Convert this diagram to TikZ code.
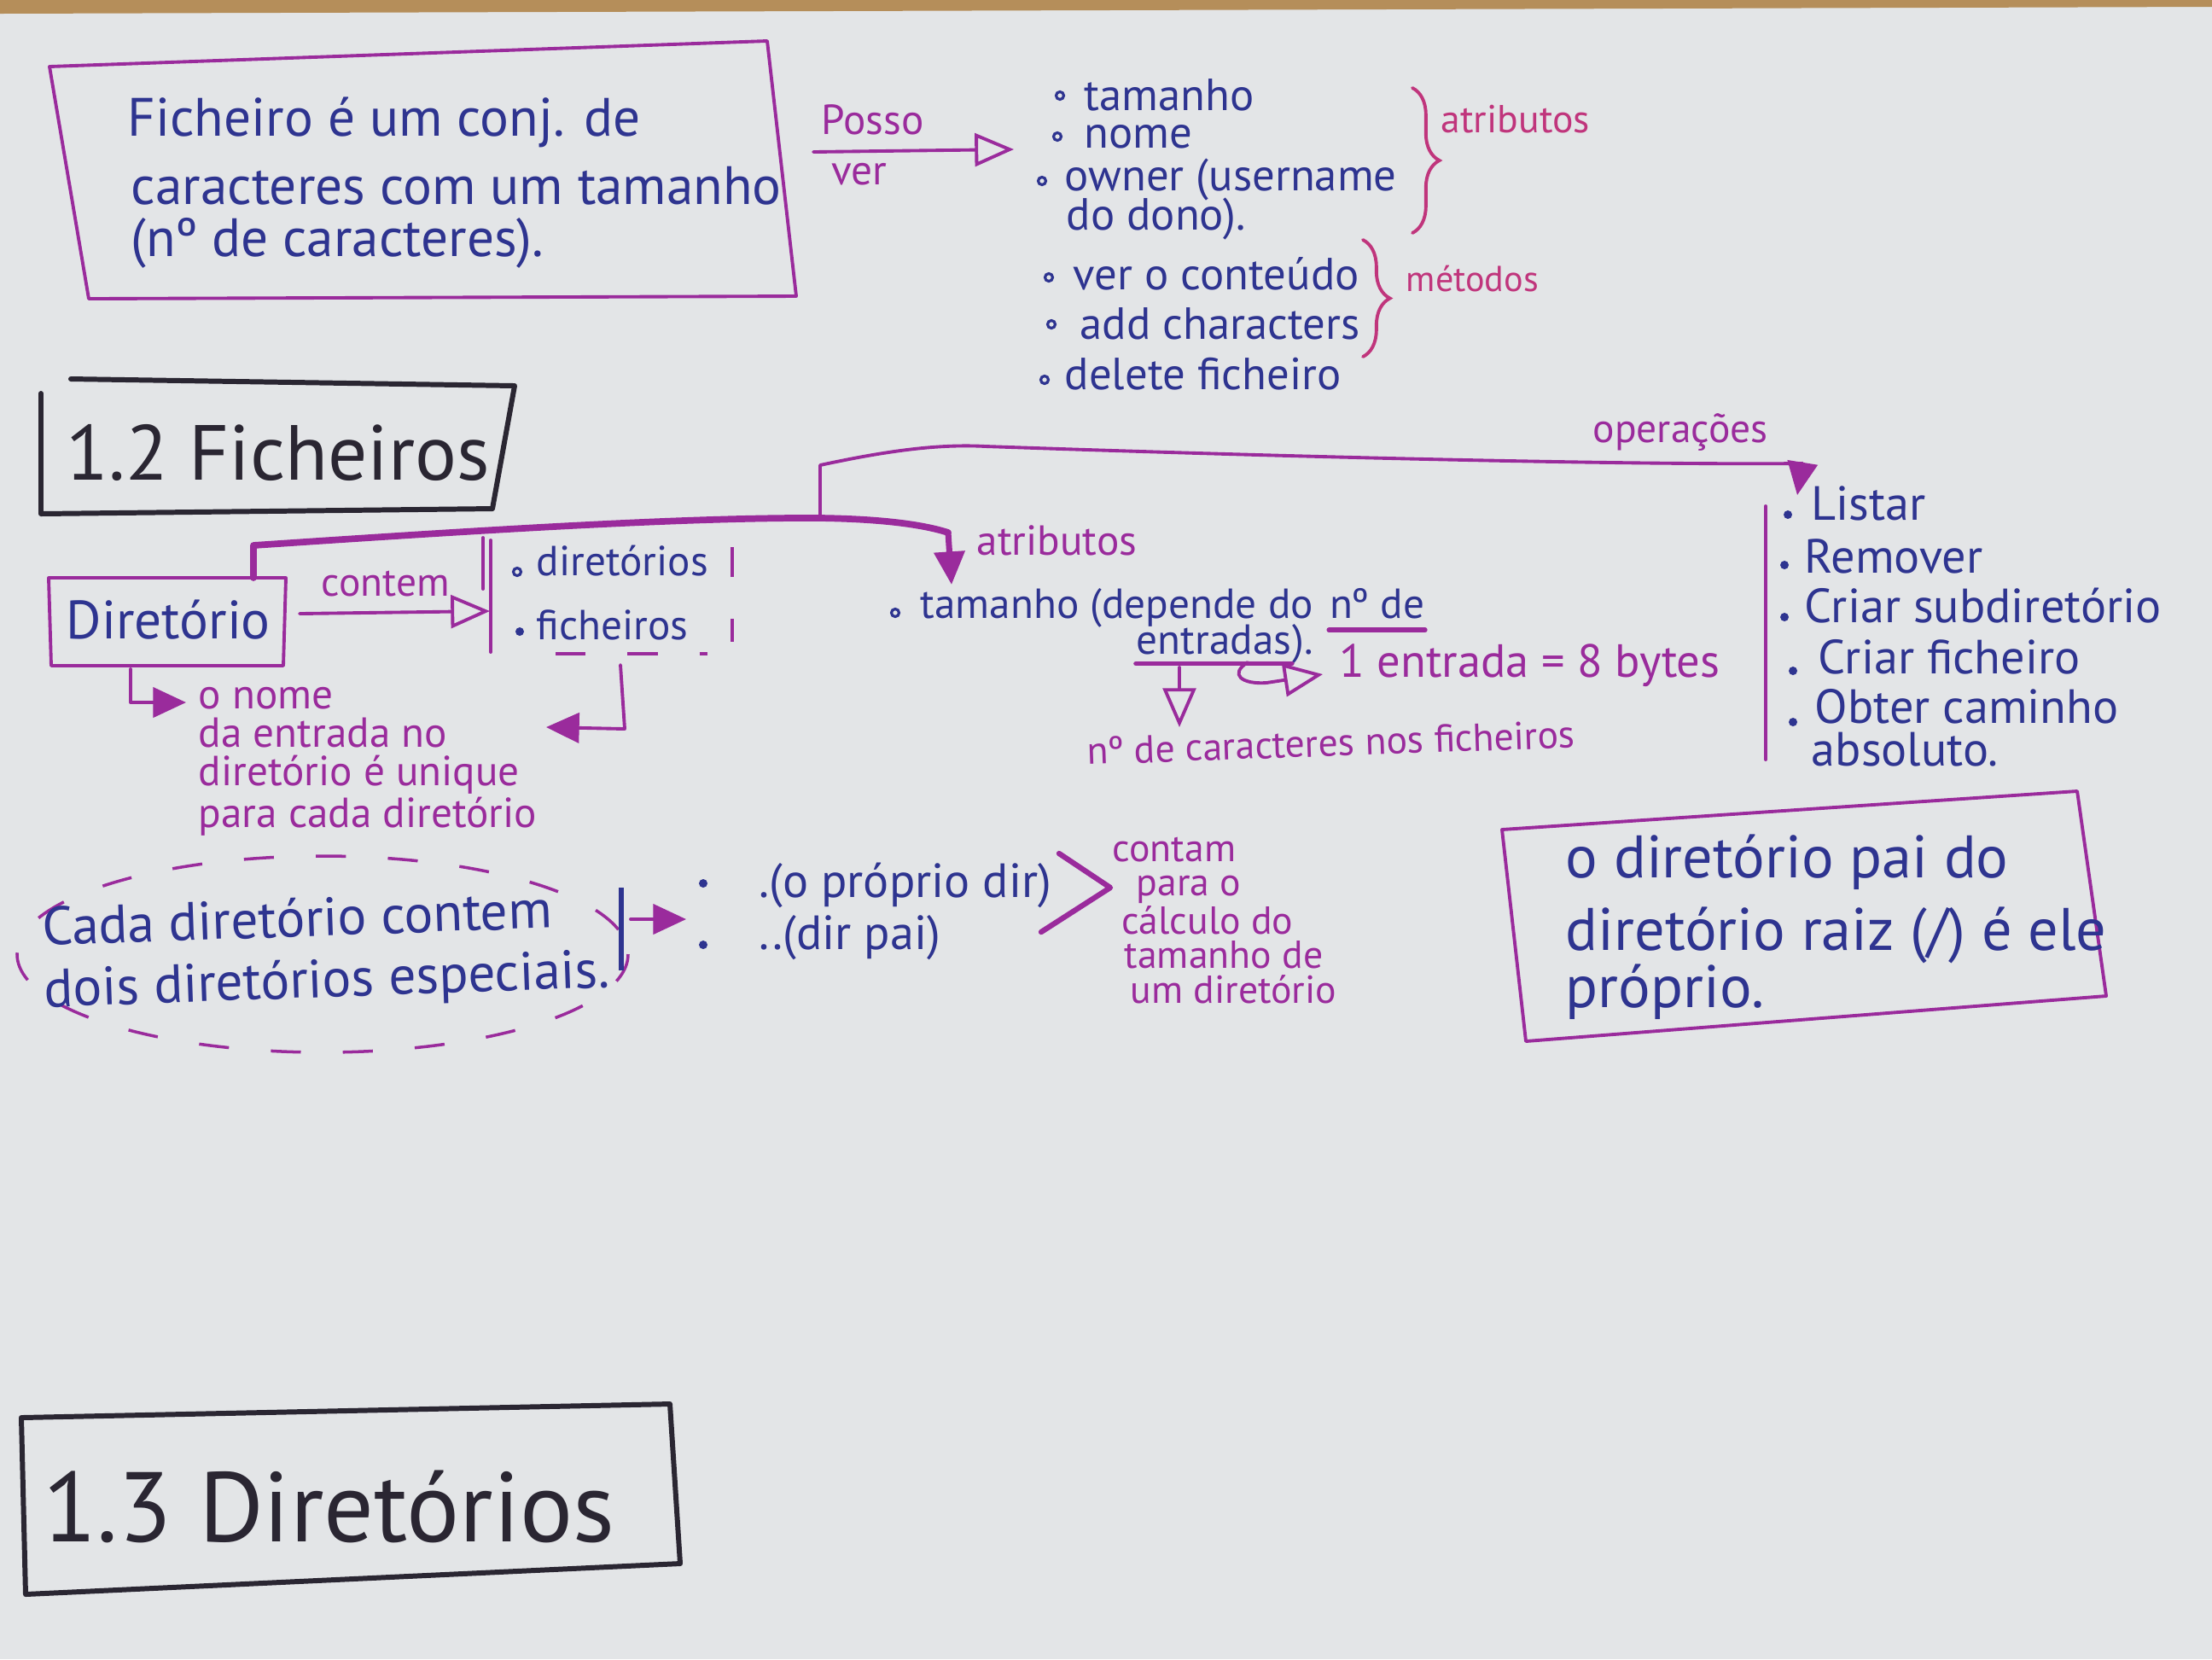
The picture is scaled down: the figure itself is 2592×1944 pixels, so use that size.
\documentclass[tikz,border=0pt]{standalone}
\usepackage{fontspec}
\setmainfont{PT Sans}
\usetikzlibrary{arrows.meta,decorations.pathreplacing}
\definecolor{paper}{HTML}{E3E5E7}
\definecolor{wood}{HTML}{B58E5A}
\definecolor{blueink}{HTML}{2E3490}
\definecolor{purpink}{HTML}{9A2B9C}
\definecolor{pinkink}{HTML}{C0357C}
\definecolor{blackink}{HTML}{2A2632}
\begin{document}
\begin{tikzpicture}[x=0.01cm,y=-0.01cm,
  txt/.style={anchor=west, inner sep=0pt},
  inkblue/.style={txt,text=blueink},
  inkpurp/.style={txt,text=purpink},
  inkpink/.style={txt,text=pinkink},
  inkblack/.style={txt,text=blackink},
  fs/.style={font=\fontsize{#1}{#1}\selectfont},
  pline/.style={draw=purpink, line width=1.1pt, line cap=round, line join=round},
  thickp/.style={draw=purpink, line width=2.2pt, line cap=round, line join=round},
  bline/.style={draw=blackink, line width=1.7pt, line cap=round, line join=round},
  pkline/.style={draw=pinkink, line width=1.1pt, line cap=round},
  openarr/.style={-{Triangle[open,length=13pt,width=11pt]}},
  fillarr/.style={-{Triangle[length=11pt,width=10pt]}},
  obul/.style={circle, draw=blueink, line width=0.9pt, minimum size=0.09cm, inner sep=0pt},
  fbul/.style={circle, fill=blueink, minimum size=0.1cm, inner sep=0pt},
  dashp/.style={draw=purpink, line width=1pt, dash pattern=on 10pt off 14pt}
]
% paper
\fill[paper] (0,0) rectangle (2592,1944);
\fill[wood] (0,0) -- (2592,0) -- (2592,8) -- (0,16) -- cycle;
\useasboundingbox (0,0) rectangle (2592,1944);

% ---------- top definition box ----------
\draw[pline] (58,78) coordinate (tb1) -- (899,48) coordinate (tb2) -- (933,347) coordinate (tb3) -- (104,350) coordinate (tb4) -- cycle;
\node[inkblue,fs=18] (def1) at (149,143) {Ficheiro é um conj. de};
\node[inkblue,fs=18] (def2) at (153,218) {caracteres com um tamanho};
\node[inkblue,fs=18] (def3) at (153,285) {(nº de caracteres).};

% Posso ver arrow
\coordinate (pv1) at (953,178);
\coordinate (pv2) at (1188,175);
\draw[pline,openarr] (pv1) -- (pv2);
\node[inkpurp,fs=14] (posso) at (962,140) {Posso};
\node[inkpurp,fs=14] (ver) at (974,204) {ver};

% attributes / methods list
\node[obul] (b1) at (1242,112) {};
\node[inkblue,fs=15] (l1) at (1270,111) {tamanho};
\node[obul] (b2) at (1239,160) {};
\node[inkblue,fs=15] (l2) at (1270,160) {nome};
\node[obul] (b3) at (1221,212) {};
\node[inkblue,fs=15] (l3) at (1247,211) {owner (username};
\node[inkblue,fs=15] (l3b) at (1249,257) {do dono).};
\node[obul] (b4) at (1229,325) {};
\node[inkblue,fs=15] (l4) at (1257,321) {ver o conteúdo};
\node[obul] (b5) at (1232,380) {};
\node[inkblue,fs=15] (l5) at (1265,379) {add characters};
\node[obul] (b6) at (1224,445) {};
\node[inkblue,fs=15] (l6) at (1247,438) {delete ficheiro};

\coordinate (br1a) at (1655,103);
\coordinate (br1b) at (1655,273);
\draw[pkline, decorate, decoration={brace, amplitude=9pt}] (br1a) -- (br1b);
\node[inkpink,fs=13] (atr1) at (1688,140) {atributos};
\coordinate (br2a) at (1597,281);
\coordinate (br2b) at (1597,418);
\draw[pkline, decorate, decoration={brace, amplitude=9pt}] (br2a) -- (br2b);
\node[inkpink,fs=12] (met) at (1647,327) {métodos};

% ---------- 1.2 Ficheiros ----------
\draw[bline] (83,444) coordinate (h1a) -- (603,452) coordinate (h1b) -- (577,596) coordinate (h1c) -- (48,602) coordinate (h1d) -- (48,461) coordinate (h1e);
\node[inkblack,fs=26] (h12) at (77,530) {1.2 Ficheiros};

% Diretorio box
\draw[pline] (57,677) coordinate (d1) -- (335,677) coordinate (d2) -- (332,780) coordinate (d3) -- (60,780) coordinate (d4) -- cycle;
\node[inkblue,fs=18] (dir) at (77,726) {Diretório};

% contem arrow
\coordinate (c1) at (351,719);
\coordinate (c2) at (574,716);
\draw[pline,openarr] (c1) -- (c2);
\node[inkpurp,fs=13.5] (contem) at (376,684) {contem};

% dashed group
\draw[pline] (575,633) coordinate (g1) -- (575,764) coordinate (g2);
\draw[pline] (566,630) coordinate (g3) -- (566,690) coordinate (g4);
\draw[dashp] (858,641) coordinate (g5) -- (858,752) coordinate (g6);
\draw[dashp] (651,766) coordinate (g7) -- (829,766) coordinate (g8);
\node[obul] (bd1) at (606,670) {};
\node[inkblue,fs=14] (gd1) at (628,657) {diretórios};
\node[fbul] (bd2) at (609,740) {};
\node[inkblue,fs=14] (gd2) at (628,732) {ficheiros};

% arrow back from group
\coordinate (ga) at (727,779);
\coordinate (gb) at (732,854);
\coordinate (gc) at (640,852);
\draw[pline,fillarr] (ga) -- (gb) -- (gc);

% L arrow to note
\coordinate (la) at (153,784);
\coordinate (lb) at (153,823);
\coordinate (lc) at (218,823);
\draw[pline,fillarr] (la) -- (lb) -- (lc);
\node[inkpurp,anchor=base west,align=left,font=\fontsize{14}{12.8}\selectfont] (note) at (232,969)
  {o nome\\da entrada no\\diretório é unique\\para cada diretório};

% thick connector from Diretorio
\coordinate (dtop) at (297,677);
\coordinate (dc1) at (297,639);
\coordinate (J) at (961,607);
\coordinate (ac) at (1111,624);
\coordinate (atip) at (1115,685);
\draw[thickp] (dtop) -- (dc1) .. controls (550,622) and (800,606) .. (J) .. controls (1030,608) and (1080,614) .. (ac);
\draw[pline,line width=2pt,fillarr] (ac) -- (atip);
\node[inkpurp,fs=14] (atr2) at (1144,633) {atributos};

% upper connector to operations
\coordinate (u1) at (961,545);
\coordinate (u2) at (1155,523);
\coordinate (u3) at (2112,543);
\coordinate (utip) at (2106,580);
\draw[pline,fillarr] (J) -- (u1) .. controls (1040,528) and (1100,520) .. (u2) .. controls (1500,535) and (1900,545) .. (u3) -- (utip);
\node[inkpurp,fs=13.5] (oper) at (1866,506) {operações};

% tamanho of directory
\node[obul] (bt) at (1049,718) {};
\node[inkblue,fs=14] (tm1) at (1078,712) {tamanho (depende do};
\node[inkblue,fs=14,anchor=base west] (tm2) at ([xshift=5pt]tm1.base east) {nº de};
\node[inkblue,fs=14] (tm3) at (1331,750) {entradas};
\node[inkblue,fs=14,anchor=base west] (tm4) at (tm3.base east) {).};
\draw[pline,line width=1.6pt] ([yshift=-4pt]tm2.base west) -- ([yshift=-4pt]tm2.base east);
\draw[pline,line width=1.6pt] ([yshift=-3pt]tm3.base west) -- ([yshift=-3pt]tm3.base east);

\coordinate (ka) at (1462,776);
\coordinate (kb) at (1484,800);
\coordinate (kc) at (1550,790);
\draw[pline,openarr] (ka) .. controls (1440,790) and (1455,802) .. (kb) -- (kc);
\node[inkpurp,fs=15.5] (ent) at (1569,780) {1 entrada = 8 bytes};

\coordinate (da) at (1382,782);
\coordinate (db) at (1382,852);
\draw[pline,openarr] (da) -- (db);
\node[inkpurp,fs=13,rotate=2] (ncar) at (1273,880) {nº de caracteres nos ficheiros};

% operations list
\draw[pline] (2069,593) coordinate (op1) -- (2069,890) coordinate (op2);
\node[fbul] (ob1) at (2095,603) {};
\node[inkblue,fs=16] (o1) at (2122,590) {Listar};
\node[fbul] (ob2) at (2091,662) {};
\node[inkblue,fs=16] (o2) at (2114,652) {Remover};
\node[fbul] (ob3) at (2091,723) {};
\node[inkblue,fs=16] (o3) at (2114,710) {Criar subdiretório};
\node[fbul] (ob4) at (2101,786) {};
\node[inkblue,fs=16] (o4) at (2130,770) {Criar ficheiro};
\node[fbul] (ob5) at (2101,846) {};
\node[inkblue,fs=16] (o5) at (2126,828) {Obter caminho};
\node[inkblue,fs=16] (o6) at (2122,878) {absoluto.};

% ---------- special directories ----------
\draw[dashp] (378,1118) ellipse [x radius=358, y radius=115];
\node[inkblue,anchor=base west,align=left,rotate=2,font=\fontsize{18}{20.5}\selectfont] (cada) at (52,1180)
  {Cada diretório contem\\dois diretórios especiais.};
\draw[draw=blueink, line width=1.6pt] (728,1040) coordinate (sb1) -- (728,1137) coordinate (sb2);
\coordinate (sa1) at (739,1077);
\coordinate (sa2) at (804,1077);
\draw[pline,fillarr] (sa1) -- (sa2);
\node[fbul] (sd1) at (824,1035) {};
\node[inkblue,fs=16] (s1) at (889,1037) {.(o próprio dir)};
\node[fbul] (sd2) at (824,1107) {};
\node[inkblue,fs=16] (s2) at (889,1099) {..(dir pai)};
\draw[pline,line width=1.8pt] (1241,1000) coordinate (gt1) -- (1301,1040) coordinate (gt2) -- (1220,1092) coordinate (gt3);
\node[inkpurp,anchor=base west,align=left,font=\fontsize{13}{11.4}\selectfont] (conta) at (1303,1175)
  {contam\\\hspace*{8pt}para o\\\hspace*{3pt}cálculo do\\\hspace*{4pt}tamanho de\\\hspace*{6pt}um diretório};

% root note box
\draw[pline] (1760,972) coordinate (r1) -- (2434,927) coordinate (r2) -- (2468,1167) coordinate (r3) -- (1788,1220) coordinate (r4) -- cycle;
\node[inkblue,fs=20] (rt1) at (1834,1010) {o diretório pai do};
\node[inkblue,fs=20] (rt2) at (1834,1096) {diretório raiz (/) é ele};
\node[inkblue,fs=20] (rt3) at (1834,1162) {próprio.};

% ---------- 1.3 Diretorios ----------
\draw[bline] (25,1661) coordinate (h3a) -- (785,1645) coordinate (h3b) -- (797,1832) coordinate (h3c) -- (30,1868) coordinate (h3d) -- cycle;
\node[inkblack,fs=33] (h13) at (50,1765) {1.3 Diretórios};
\end{tikzpicture}
\end{document}
